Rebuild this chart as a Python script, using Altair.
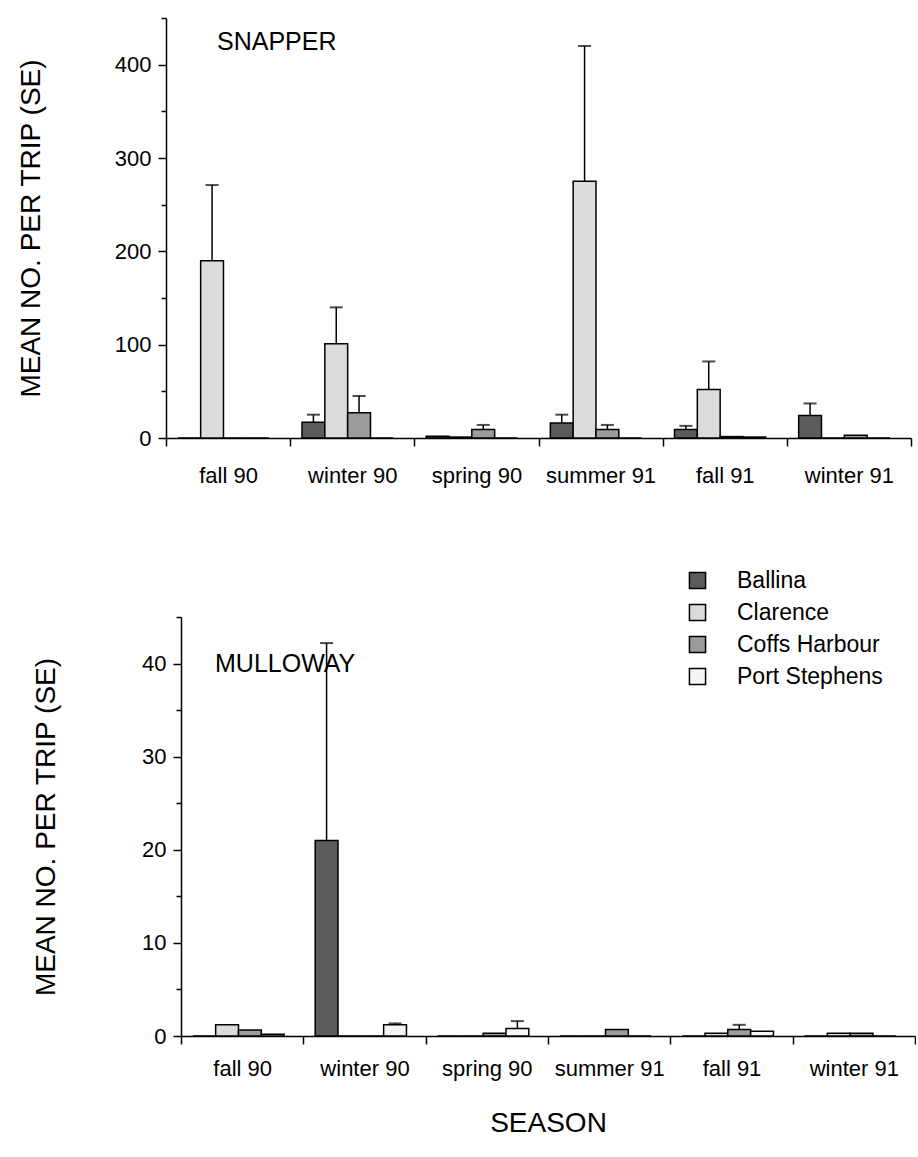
import altair as alt
import pandas as pd

FONT = "Liberation Sans"

seasons = ["fall 90", "winter 90", "spring 90", "summer 91", "fall 91", "winter 91"]
sites = ["Ballina", "Clarence", "Coffs Harbour", "Port Stephens"]
site_fills = ["#5c5c5c", "#dcdcdc", "#9c9c9c", "#f5f5f5"]

# SNAPPER: mean number per trip and SE
snapper_ballina = [0, 17, 2, 16, 9, 24]
snapper_ballina_se = [0, 8, 0, 9, 4, 13]
snapper_clarence = [190, 101, 1, 275, 52, 0]
snapper_clarence_se = [81, 39, 0, 145, 30, 0]
snapper_coffs = [0, 27, 9, 9, 1.5, 3]
snapper_coffs_se = [0, 18, 5, 5, 0, 0]
snapper_port = [0, 0, 0, 0, 1, 0]
snapper_port_se = [0, 0, 0, 0, 0, 0]

# MULLOWAY: mean number per trip and SE
mulloway_ballina = [0, 21, 0, 0, 0, 0]
mulloway_ballina_se = [0, 21.2, 0, 0, 0, 0]
mulloway_clarence = [1.2, 0, 0, 0, 0.3, 0.3]
mulloway_clarence_se = [0, 0, 0, 0, 0, 0]
mulloway_coffs = [0.65, 0, 0.3, 0.7, 0.7, 0.3]
mulloway_coffs_se = [0, 0, 0, 0, 0.5, 0]
mulloway_port = [0.2, 1.2, 0.8, 0, 0.5, 0]
mulloway_port_se = [0, 0.15, 0.8, 0, 0, 0]


def build(means, ses):
    rows = []
    for site, m, s in zip(sites, means, ses):
        for season, v, e in zip(seasons, m, s):
            rows.append({"season": season, "site": site, "mean": v, "se": e, "top": v + e})
    return pd.DataFrame(rows)


snapper_df = build([snapper_ballina, snapper_clarence, snapper_coffs, snapper_port],
                   [snapper_ballina_se, snapper_clarence_se, snapper_coffs_se, snapper_port_se])
mulloway_df = build([mulloway_ballina, mulloway_clarence, mulloway_coffs, mulloway_port],
                    [mulloway_ballina_se, mulloway_clarence_se, mulloway_coffs_se, mulloway_port_se])


def panel(df, ymax, step, label_step, width, height, title, tdx, tdy,
          title_padding, x_title, legend, label_pad, shift):
    ticks = [i * step for i in range(int(round(ymax / step)) + 1)]
    if shift:
        x_scale = alt.Scale(paddingInner=0, paddingOuter=0, range=[shift, width - 1])
    else:
        x_scale = alt.Scale(paddingInner=0, paddingOuter=0)
    x_enc = alt.X("season:N", sort=seasons, scale=x_scale,
                  axis=alt.Axis(title=x_title, labelAngle=0, tickBand="extent",
                                labelFontSize=22, labelPadding=label_pad,
                                tickSize=8, titleFontSize=28, titlePadding=30,
                                titleFontWeight="normal"))
    xo_enc = alt.XOffset("site:N", sort=sites,
                         scale=alt.Scale(paddingInner=0, paddingOuter=0.72, align=0.36))
    y_scale = alt.Scale(domain=[0, ymax], nice=False)
    y_axis = alt.Axis(title="MEAN NO. PER TRIP (SE)", values=ticks,
                      labelExpr=f"datum.value % {label_step} === 0 ? datum.label : ''",
                      tickSize={"condition": {"test": f"datum.value % {label_step} === 0", "value": 8}, "value": 5},
                      labelFontSize=22, labelPadding=7, titleFontSize=28,
                      titleFontWeight="normal", titlePadding=title_padding, grid=False,
                      offset=-shift)
    color = alt.Color("site:N", sort=sites,
                      scale=alt.Scale(domain=sites, range=site_fills),
                      legend=legend)
    bars = alt.Chart().mark_bar(stroke="black", strokeWidth=1.5).encode(
        x=x_enc, xOffset=xo_enc,
        y=alt.Y("mean:Q", scale=y_scale, axis=y_axis),
        fill=color,
    )
    err = alt.Chart().transform_filter("datum.se > 0")
    rules = err.mark_rule(color="black", strokeWidth=1.5).encode(
        x=x_enc, xOffset=xo_enc, y=alt.Y("mean:Q", scale=y_scale), y2="top:Q")
    caps = err.mark_tick(color="black", thickness=2, size=13).encode(
        x=x_enc, xOffset=xo_enc, y=alt.Y("top:Q", scale=y_scale))
    return alt.layer(bars, rules, caps, data=df).properties(
        width=width, height=height,
        title=alt.TitleParams(text=title, anchor="start", frame="group", orient="top",
                              fontSize=25, fontWeight="normal", font=FONT,
                              baseline="top", dx=tdx, dy=tdy, offset=0),
    )


top = panel(snapper_df, 450, 50, 100, 745, 420, "SNAPPER", 51, 38, 69, None, None, 19, 0)
bottom = panel(mulloway_df, 45, 5, 10, 750, 419, "MULLOWAY", 49, 108, 81, "SEASON",
               alt.Legend(title=None, orient="none", legendX=520, legendY=-48,
                          symbolType="square", symbolSize=260, symbolStrokeColor="black",
                          symbolStrokeWidth=1.5, labelFontSize=23, labelOffset=28,
                          rowPadding=8, labelFont=FONT), 14, 15)

chart = alt.vconcat(top, bottom, spacing=83).resolve_scale(fill="independent").resolve_legend(
    fill="independent").properties(
    padding={"left": 17, "top": 17, "right": 0, "bottom": 0},
    background="white",
).configure_view(stroke=None).configure_axis(
    domainColor="black", domainWidth=1.5, tickColor="black", tickWidth=1.5,
    labelColor="black", titleColor="black", labelFont=FONT, titleFont=FONT,
).configure_title(color="black")

chart.save("out.html", embed_options={"renderer": "svg", "actions": False})
